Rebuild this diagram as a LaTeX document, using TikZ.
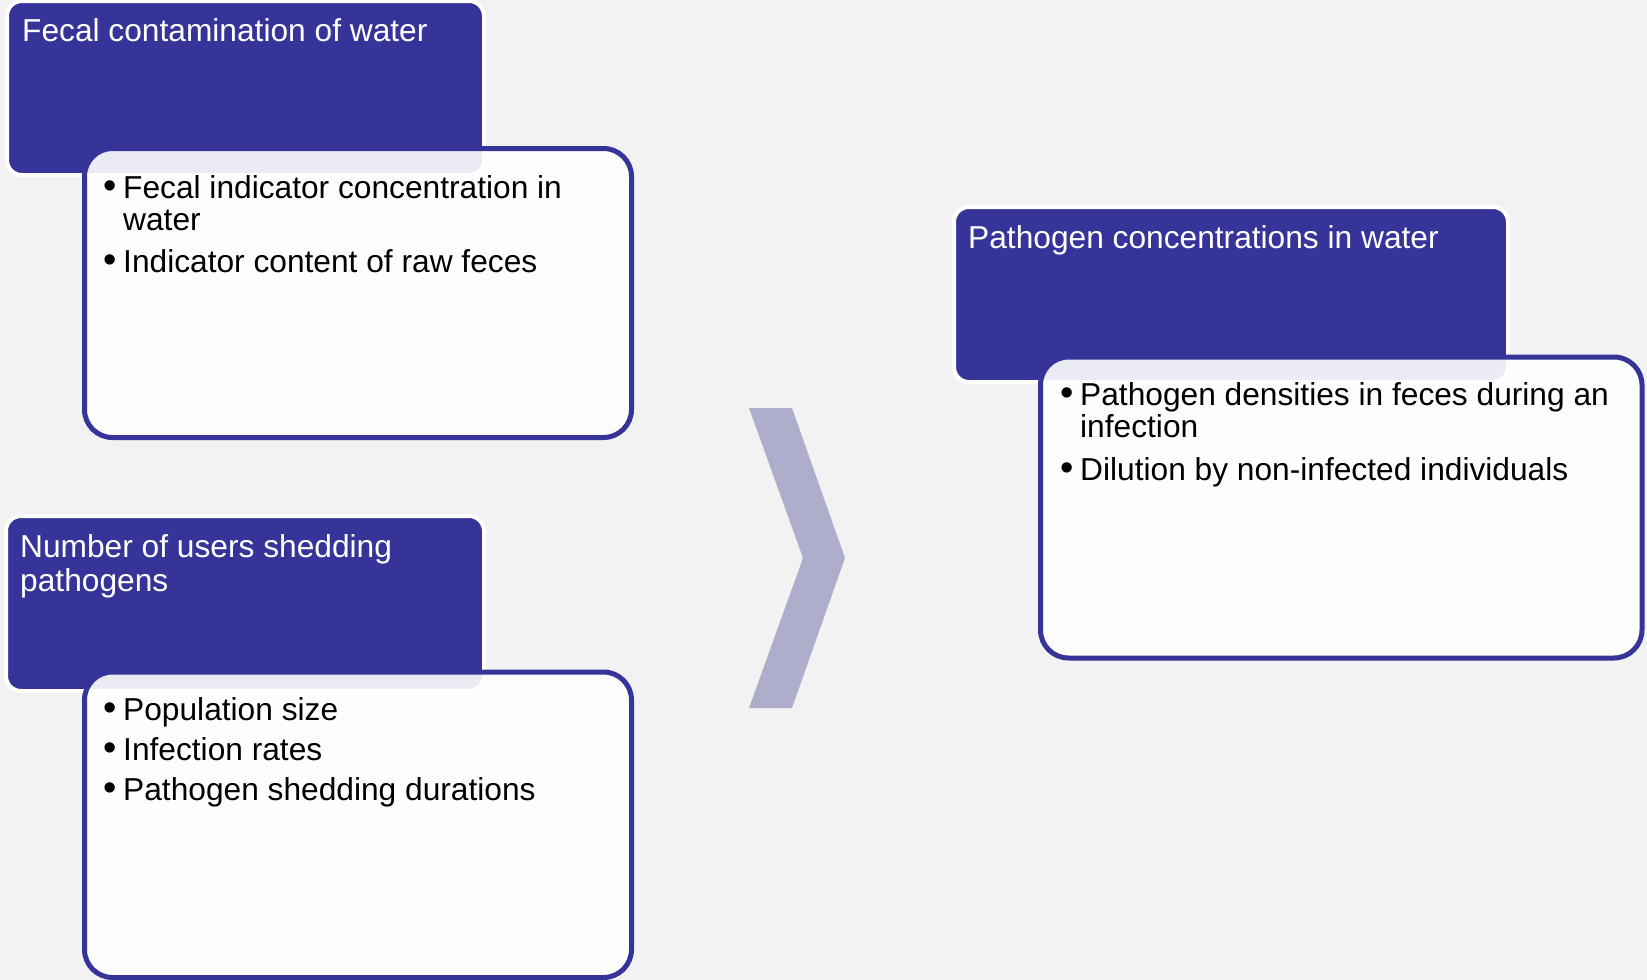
\documentclass[tikz,border=0pt]{standalone}
\usepackage{fontspec}
\setmainfont{Liberation Sans}
\definecolor{bgray}{RGB}{242,242,242}
\definecolor{tblue}{RGB}{54,52,152}
\definecolor{chev}{RGB}{174,174,204}
\newcommand\itemfont{\fontsize{31.7}{32.5}\selectfont}
\newcommand\headfont{\fontsize{31.7}{34}\selectfont}
\newcommand\dotfont{\fontsize{38}{38}\selectfont}
\begin{document}
\begin{tikzpicture}[x=1pt,y=-1pt,
  titlebox/.style={fill=tblue, draw=white, line width=4, rounded corners=15,
    inner sep=0, outer sep=0, anchor=north west},
  itembox/.style={fill=white, fill opacity=0.9, draw=tblue, draw opacity=1,
    line width=5, rounded corners=28, inner sep=0, outer sep=0, anchor=north west},
  head/.style={text=white, font=\headfont, inner sep=0, align=left, anchor=base west},
  itemtext/.style={text=black, font=\itemfont, inner sep=0, align=left, anchor=base west},
  dot/.style={text=black, font=\dotfont, inner sep=0, anchor=base}]
% page and background
\fill[bgray] (0,0) rectangle (1647,980);
\useasboundingbox (0,0) rectangle (1647,980);

% group 1: fecal contamination
\node[titlebox, minimum width=477, minimum height=174] (g1) at (7,1) {};
\node[itembox, minimum width=547, minimum height=289] (b1) at (84.5,148.5) {};
\node[head] (h1) at (22,41) {Fecal contamination of water};
\node[dot] (d1a) at (110,198) {•};
% multi-line nodes are placed by the baseline of their last line
\node[itemtext] (i1a) at (123,230.5) {Fecal indicator concentration in\\water};
\node[dot] (d1b) at (110,272) {•};
\node[itemtext] (i1b) at (123,272) {Indicator content of raw feces};

% group 2: users shedding pathogens
\node[titlebox, minimum width=478, minimum height=175] (g2) at (6,516) {};
\node[itembox, minimum width=547, minimum height=305.5] (b2) at (84.5,672) {};
\node[head] (h2) at (20,591) {Number of users shedding\\pathogens};
\node[dot] (d2a) at (110,720) {•};
\node[itemtext] (i2a) at (123,720) {Population size};
\node[dot] (d2b) at (110,760) {•};
\node[itemtext] (i2b) at (123,760) {Infection rates};
\node[dot] (d2c) at (110,800) {•};
\node[itemtext] (i2c) at (123,800) {Pathogen shedding durations};

% chevron between the inputs and the result
\fill[chev] (749,408) -- (792,408) -- (845,558) -- (792,708) -- (749,708) -- (803,558) -- cycle;

% group 3: pathogen concentrations
\node[titlebox, minimum width=554, minimum height=175] (g3) at (954,207) {};
\node[itembox, minimum width=601.5, minimum height=301] (b3) at (1040.5,357) {};
\node[head] (h3) at (968,248) {Pathogen concentrations in water};
\node[dot] (d3a) at (1067.5,405) {•};
\node[itemtext] (i3a) at (1080,437.5) {Pathogen densities in feces during an\\infection};
\node[dot] (d3b) at (1067.5,480) {•};
\node[itemtext] (i3b) at (1080,480) {Dilution by non-infected individuals};
\end{tikzpicture}
\end{document}
